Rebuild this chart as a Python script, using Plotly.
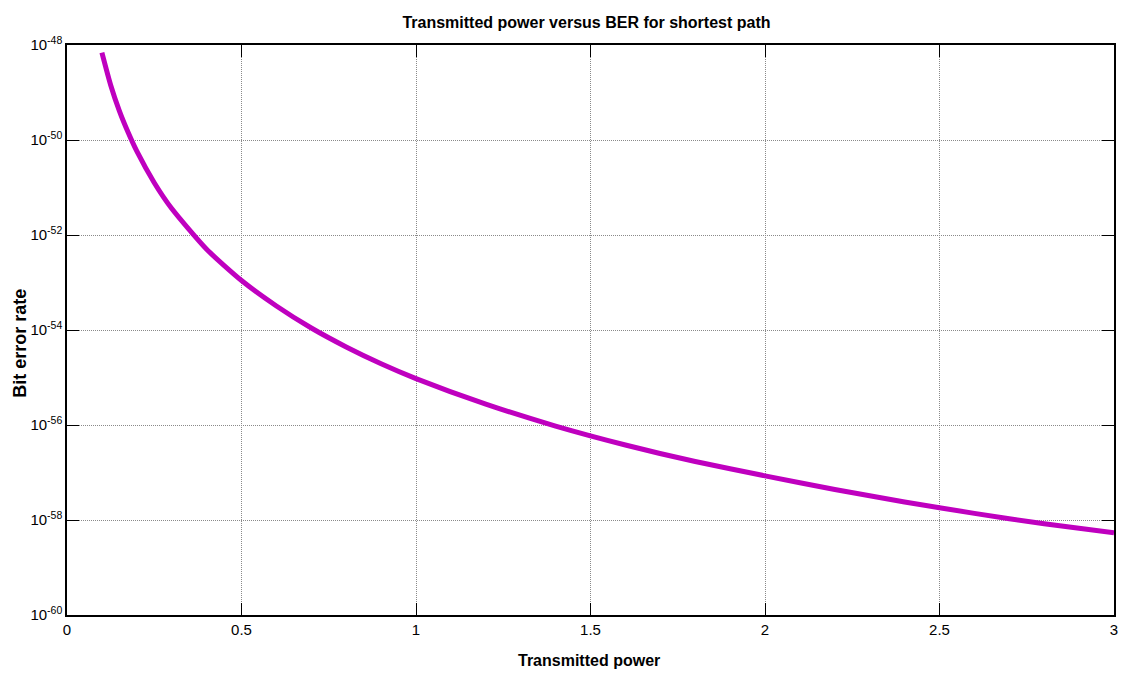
import plotly.graph_objects as go

# Transmitted power (x) and the bit error rate
power = [0.1, 0.125, 0.15, 0.175, 0.2, 0.25, 0.3, 0.4, 0.5, 0.6, 0.7, 0.8,
         0.9, 1.0, 1.2, 1.4, 1.6, 1.8, 2.0, 2.2, 2.4, 2.6, 2.8, 3.0]
ber = [6.9e-49, 1.44e-49, 4.1e-50, 1.45e-50, 5.8e-51, 1.26e-51, 3.6e-52,
       5.0e-53, 1.1e-53, 3.2e-54, 1.1e-54, 4.4e-55, 1.95e-55, 9.5e-56,
       2.75e-56, 9.5e-57, 3.8e-57, 1.7e-57, 8.5e-58, 4.4e-58, 2.4e-58,
       1.38e-58, 8.3e-59, 5.4e-59]

x_ticks = [0, 0.5, 1, 1.5, 2, 2.5, 3]
x_tick_text = ["0", "0.5", "1", "1.5", "2", "2.5", "3"]
y_ticks = [1e-60, 1e-58, 1e-56, 1e-54, 1e-52, 1e-50, 1e-48]
y_tick_text = ["10<sup>-60</sup>", "10<sup>-58</sup>", "10<sup>-56</sup>",
               "10<sup>-54</sup>", "10<sup>-52</sup>", "10<sup>-50</sup>",
               "10<sup>-48</sup>"]

sans = "Liberation Sans, Arial, sans-serif"

fig = go.Figure()
fig.add_trace(go.Scatter(
    x=power, y=ber, mode="lines",
    line=dict(color="#BF00BF", width=5, shape="spline", smoothing=0.6),
    showlegend=False,
))

axis_common = dict(
    showline=True, linecolor="black", linewidth=1.5, mirror="allticks",
    ticks="inside", ticklen=12, tickcolor="black", tickwidth=1,
    showgrid=True, gridcolor="#8a8a8a", gridwidth=1, griddash="1px,1px",
    zeroline=False,
    tickfont=dict(family=sans, size=15, color="black"),
)

fig.update_xaxes(range=[0, 3], tickvals=x_ticks, ticktext=x_tick_text,
                 **axis_common)
fig.update_yaxes(type="log", range=[-60, -48], tickvals=y_ticks,
                 ticktext=y_tick_text, **axis_common)

# Axis titles
fig.add_annotation(text="<b>Transmitted power</b>", xref="paper", yref="paper",
                   x=0.499, y=-0.0807, xanchor="center", yanchor="middle",
                   showarrow=False, font=dict(family=sans, size=16, color="black"))
fig.add_annotation(text="<b>Bit error rate</b>", xref="paper", yref="paper",
                   x=-0.0448, y=0.476, xanchor="center", yanchor="middle",
                   textangle=-90, showarrow=False,
                   font=dict(family=sans, size=18, color="black"))

fig.update_layout(
    width=1130, height=675,
    margin=dict(l=67, r=13, t=45, b=60),
    paper_bgcolor="white", plot_bgcolor="white",
    title=dict(text="<b>Transmitted power versus BER for shortest path</b>",
               x=0.519, xanchor="center", y=0.967, yanchor="middle",
               font=dict(family=sans, size=16, color="black")),
)

fig.write_html("out.html")
